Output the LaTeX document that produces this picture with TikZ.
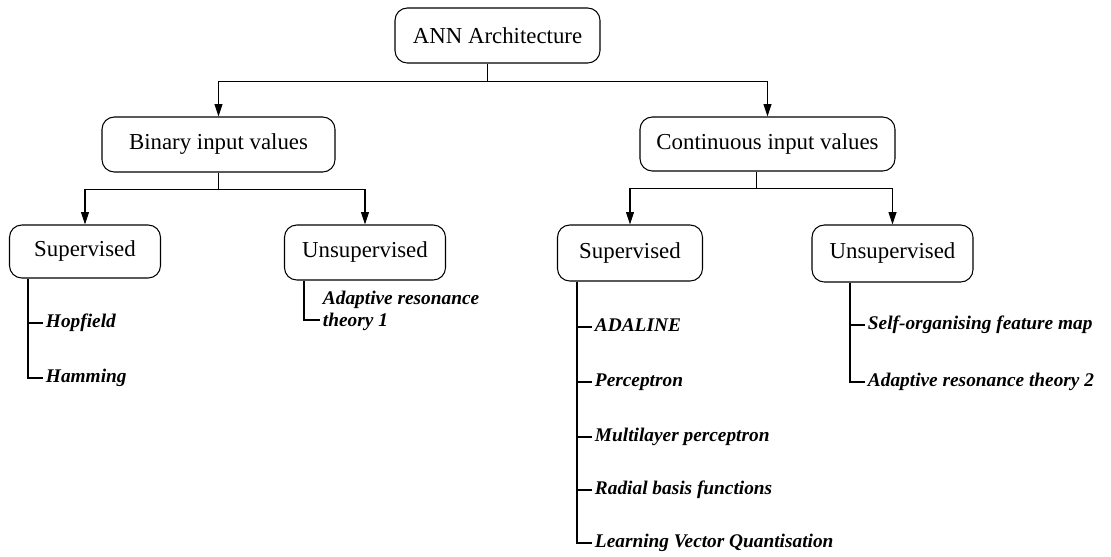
\documentclass[tikz,border=0pt]{standalone}
\usepackage{fontspec}
\setmainfont{Liberation Serif}
\usetikzlibrary{arrows.meta}

\tikzset{
    box/.style={draw, rounded corners=7pt, line width=0.6pt, inner sep=0pt, font=\fontsize{13}{15}\selectfont},
    link/.style={line width=0.6pt, -{Triangle[length=7pt, width=4.5pt]}},
    branch/.style={line width=0.8pt},
    item/.style={anchor=west, inner xsep=1.5pt, inner ysep=0pt, text height=8pt, text depth=2.5pt, font=\fontsize{11}{13}\selectfont\bfseries\itshape}
}

\begin{document}
\begin{tikzpicture}
                \useasboundingbox (0, 0) rectangle (22.22, -11.14);

                \node[box, minimum width=4.1cm, minimum height=1.1cm] (ann) at (9.95, -0.71) {ANN Architecture};

                \node[box, minimum width=4.66cm, minimum height=1.1cm] (bin) at (4.37, -2.89) {Binary input values};

                \node[box, minimum width=5.1cm, minimum height=1.08cm] (cont) at (15.35, -2.88) {Continuous input values};

                \node[box, minimum width=3.02cm, minimum height=1.06cm] (binsup) at (1.70, -5.03) {Supervised};

                \node[box, minimum width=3.22cm, minimum height=1.1cm] (binuns) at (7.30, -5.05) {Unsupervised};

                \node[box, minimum width=2.9cm, minimum height=1.12cm] (contsup) at (12.60, -5.06) {Supervised};

                \node[box, minimum width=3.22cm, minimum height=1.14cm] (contuns) at (17.85, -5.07) {Unsupervised};

                \draw[link] ([xshift=-0.2cm]ann.south) -- ++(0, -0.36) -| (bin.north);

                \draw[link] ([xshift=-0.2cm]ann.south) -- ++(0, -0.36) -| (cont.north);

                \draw[link] (bin.south) -- ++(0, -0.34) -| (binsup.north);

                \draw[link] (bin.south) -- ++(0, -0.34) -| (binuns.north);

                \draw[link] ([xshift=-0.22cm]cont.south) -- ++(0, -0.34) -| (contsup.north);

                \draw[link] ([xshift=-0.22cm]cont.south) -- ++(0, -0.34) -| (contuns.north);

                % binary, supervised
                \node[item] (hopfield) at (0.86, -6.46) {Hopfield};

                \node[item] (hamming) at (0.86, -7.56) {Hamming};

                \draw[branch] (binsup.south -| 0.56, 0) |- (hamming.west);

                \draw[branch] (hopfield.west) -- ++(-0.30, 0);

                % binary, unsupervised
                \node[item, anchor=north west, align=left] (art1) at (6.40, -6.25) {Adaptive resonance\\theory 1};

                \draw[branch] (binuns.south -| 6.08, 0) |- ([yshift=-4.3pt]art1.north west);

                % continuous, supervised
                \node[item] (adaline) at (11.84, -6.54) {ADALINE};

                \node[item] (percep) at (11.84, -7.64) {Perceptron};

                \node[item] (mlp) at (11.84, -8.74) {Multilayer perceptron};

                \node[item] (rbf) at (11.84, -9.80) {Radial basis functions};

                \node[item] (lvq) at (11.84, -10.86) {Learning Vector Quantisation};

                \draw[branch] (contsup.south -| 11.54, 0) |- (lvq.west);

                \foreach \n in {adaline, percep, mlp, rbf}
                    \draw[branch] (\n.west) -- ++(-0.30, 0);

                % continuous, unsupervised
                \node[item] (som) at (17.30, -6.50) {Self-organising feature map};

                \node[item] (art2) at (17.30, -7.64) {Adaptive resonance theory 2};

                \draw[branch] (contuns.south -| 17.00, 0) |- (art2.west);

                \draw[branch] (som.west) -- ++(-0.30, 0);
            \end{tikzpicture}
\end{document}
